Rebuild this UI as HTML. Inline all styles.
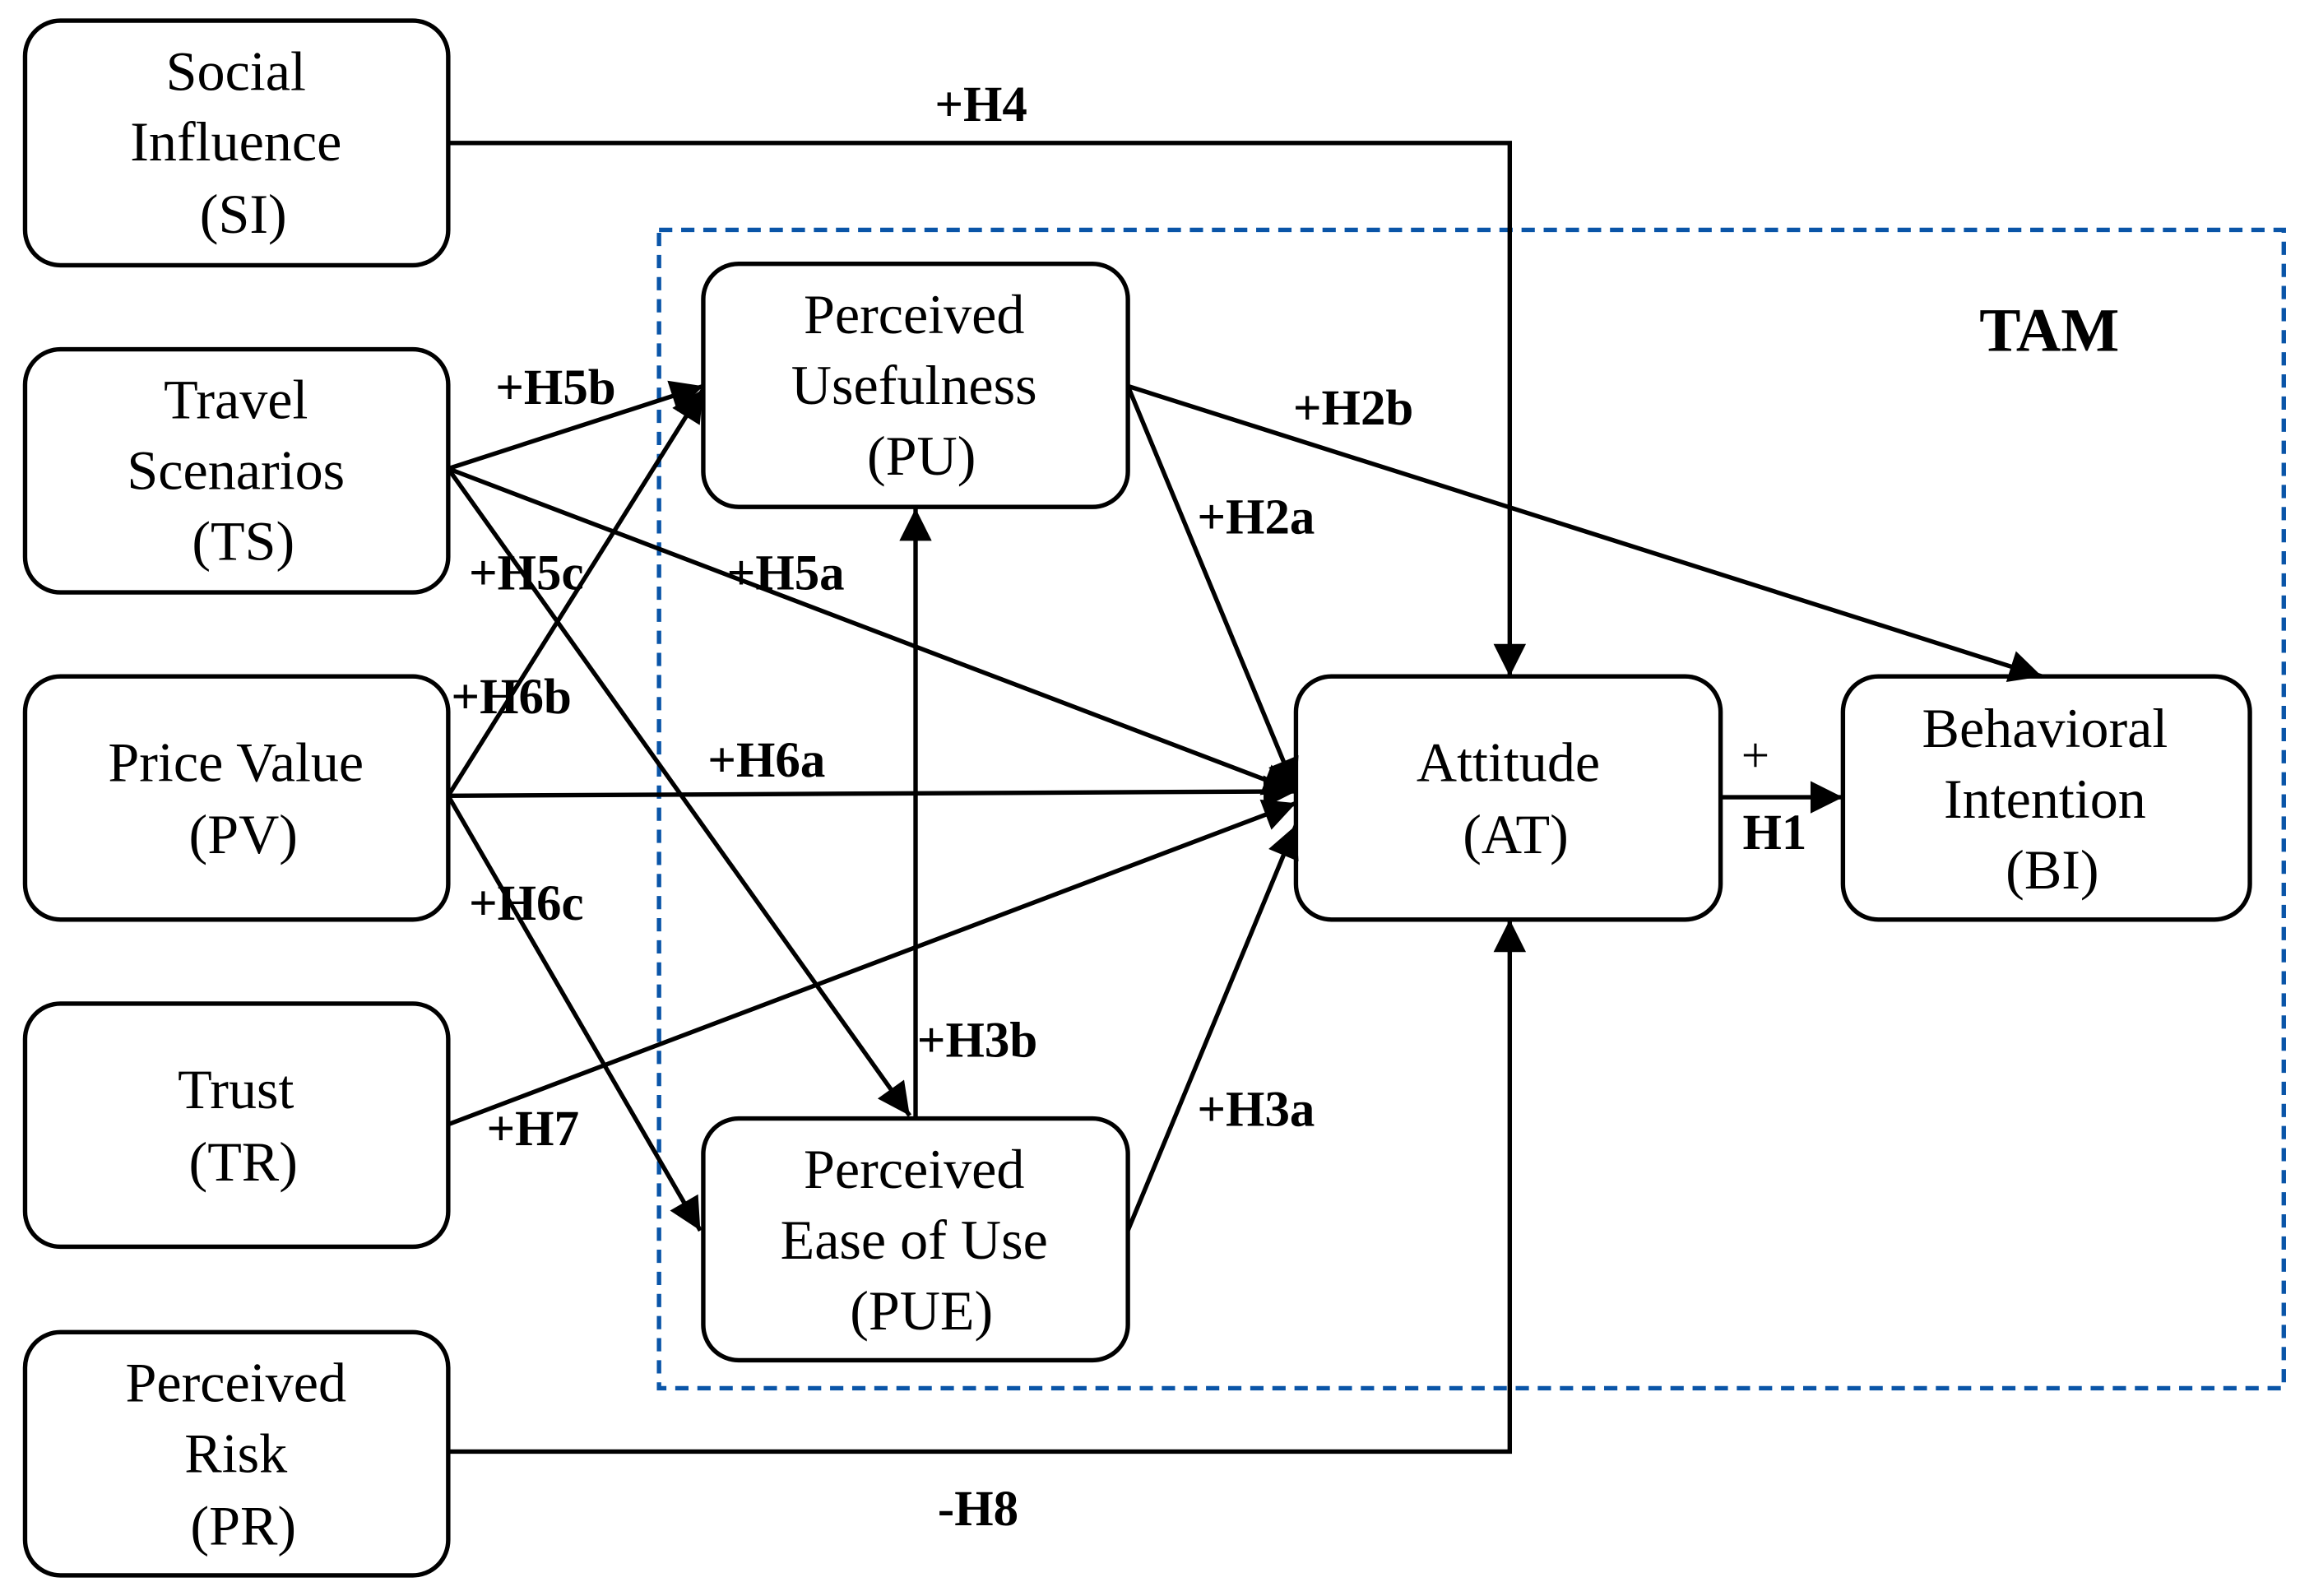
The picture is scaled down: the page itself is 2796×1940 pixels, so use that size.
<!DOCTYPE html>
<html><head><meta charset="utf-8"><style>
html,body{margin:0;padding:0;background:#fff;}
svg{display:block;}
text{font-family:"Liberation Serif",serif;fill:#000;}
.n{font-size:38px;text-anchor:middle;}
.l{font-size:34px;font-weight:bold;}
</style></head><body>
<svg width="2796" height="1940" viewBox="0 0 1560 1083" preserveAspectRatio="none" xmlns="http://www.w3.org/2000/svg">
<defs>
<marker id="b" viewBox="0 0 10 10" refX="10" refY="5" markerWidth="24" markerHeight="22" markerUnits="userSpaceOnUse" orient="auto-start-reverse">
<path d="M0,0 L10,5 L0,10 z" fill="#000"/>
</marker>
</defs>
<rect x="447" y="156" width="1102" height="786" fill="none" stroke="#0a55a8" stroke-width="3" stroke-dasharray="9,6"/>
<text x="1390" y="238" style="font-size:42px;font-weight:bold;text-anchor:middle">TAM</text>
<g fill="#fff" stroke="#000" stroke-width="3">
<rect x="17" y="14" width="287" height="166" rx="24"/>
<rect x="17" y="237" width="287" height="165" rx="24"/>
<rect x="17" y="459" width="287" height="165" rx="24"/>
<rect x="17" y="681" width="287" height="165" rx="24"/>
<rect x="17" y="904" width="287" height="165" rx="24"/>
<rect x="477" y="179" width="288" height="165" rx="24"/>
<rect x="477" y="759" width="288" height="164" rx="24"/>
<rect x="879" y="459" width="288" height="165" rx="24"/>
<rect x="1250" y="459" width="276" height="165" rx="24"/>
</g>
<g fill="none" stroke="#000" stroke-width="3" marker-end="url(#b)">
<polyline points="304,97 1024,97 1024,459"/>
<polyline points="304,985 1024,985 1024,624"/>
<line x1="304" y1="318" x2="477" y2="262"/>
<line x1="304" y1="318" x2="879" y2="537"/>
<line x1="304" y1="318" x2="617" y2="757"/>
<line x1="304" y1="540" x2="477" y2="264"/>
<line x1="304" y1="540" x2="879" y2="537"/>
<line x1="304" y1="540" x2="475" y2="835"/>
<line x1="304" y1="763" x2="879" y2="545"/>
<line x1="765" y1="262" x2="879" y2="537"/>
<line x1="765" y1="262" x2="1385" y2="459"/>
<line x1="765" y1="835" x2="879" y2="560"/>
<line x1="1167" y1="541" x2="1250" y2="541"/>
<line x1="621" y1="759" x2="621" y2="345"/>
</g>
<text class="n"><tspan x="160" y="61">Social</tspan><tspan x="160" y="109">Influence</tspan><tspan x="165" y="158">(SI)</tspan></text>
<text class="n"><tspan x="160" y="284">Travel</tspan><tspan x="160" y="332">Scenarios</tspan><tspan x="165" y="380">(TS)</tspan></text>
<text class="n"><tspan x="160" y="530">Price Value</tspan><tspan x="165" y="579">(PV)</tspan></text>
<text class="n"><tspan x="160" y="752">Trust</tspan><tspan x="165" y="801">(TR)</tspan></text>
<text class="n"><tspan x="160" y="951">Perceived</tspan><tspan x="160" y="999">Risk</tspan><tspan x="165" y="1048">(PR)</tspan></text>
<text class="n"><tspan x="620" y="226">Perceived</tspan><tspan x="620" y="274">Usefulness</tspan><tspan x="625" y="322">(PU)</tspan></text>
<text class="n"><tspan x="620" y="806">Perceived</tspan><tspan x="620" y="854">Ease of Use</tspan><tspan x="625" y="902">(PUE)</tspan></text>
<text class="n"><tspan x="1023" y="530">Attitude</tspan><tspan x="1028" y="579">(AT)</tspan></text>
<text class="n"><tspan x="1387" y="507">Behavioral</tspan><tspan x="1387" y="555">Intention</tspan><tspan x="1392" y="603">(BI)</tspan></text>
<g class="l">
<text x="634" y="82">+H4</text>
<text x="336" y="274">+H5b</text>
<text x="318" y="400">+H5c</text>
<text x="493" y="400">+H5a</text>
<text x="306" y="484">+H6b</text>
<text x="480" y="527">+H6a</text>
<text x="318" y="624">+H6c</text>
<text x="330" y="777">+H7</text>
<text x="877" y="288">+H2b</text>
<text x="812" y="362">+H2a</text>
<text x="622" y="717">+H3b</text>
<text x="812" y="764">+H3a</text>
<text x="636" y="1035">-H8</text>
<text x="1182" y="576">H1</text>
</g>
<text x="1181" y="524" style="font-size:34px">+</text>
</svg>
</body></html>
